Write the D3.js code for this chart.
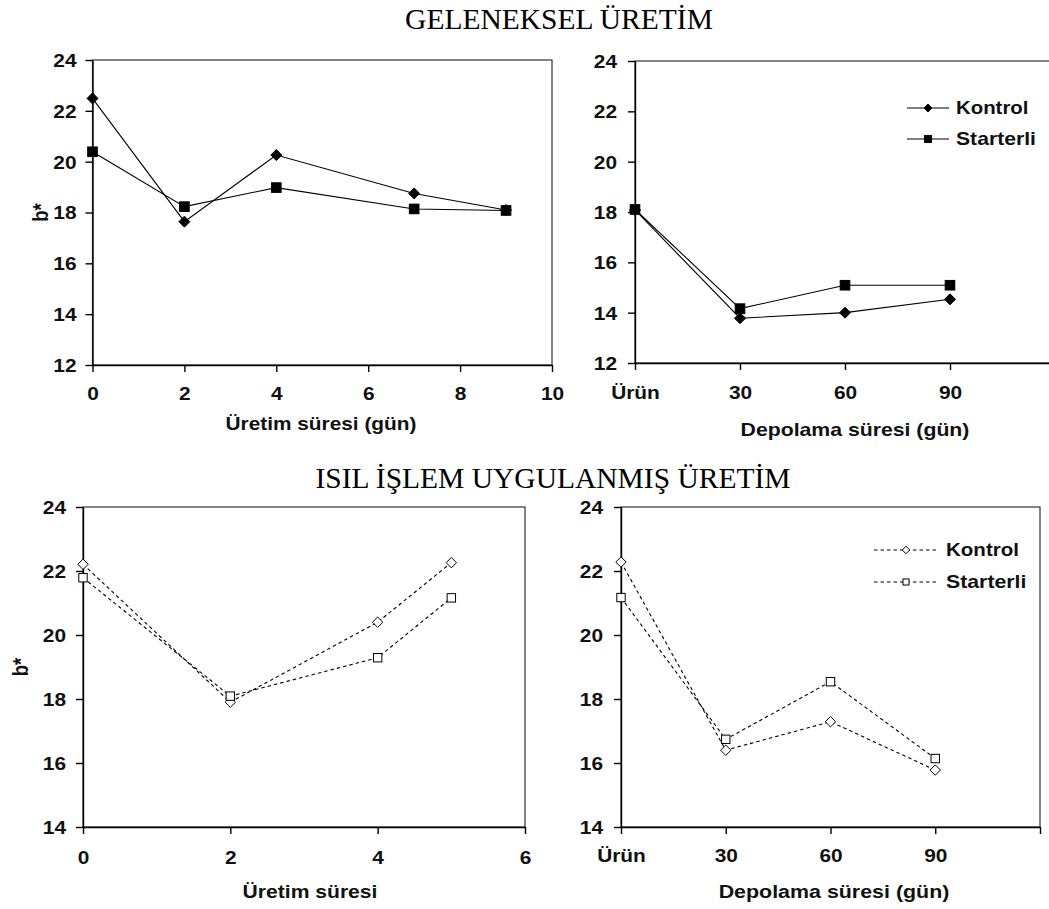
<!DOCTYPE html>
<html>
<head>
<meta charset="utf-8">
<script src="https://cdn.jsdelivr.net/npm/d3@7"></script>
<style>
  html, body { margin: 0; padding: 0; background: #fff; }
  svg { display: block; }
</style>
</head>
<body>
<svg id="chart" width="1049" height="909"></svg>
<script>
// ---- data ----
const seriesNames = ["Kontrol", "Starterli"];

// Geleneksel üretim: üretim süresi (gün)
const gelUretimGun = [0, 2, 4, 7, 9];
const gelUretimKontrol = [22.49, 17.64, 20.26, 18.75, 18.10];
const gelUretimStarterli = [20.39, 18.23, 18.98, 18.14, 18.08];

// Geleneksel üretim: depolama süresi (gün), 0 = Ürün
const depolamaGun = [0, 30, 60, 90];
const gelDepolamaKontrol = [18.08, 13.78, 14.00, 14.53];
const gelDepolamaStarterli = [18.10, 14.16, 15.09, 15.09];

// Isıl işlem uygulanmış üretim: üretim süresi
const isilUretimGun = [0, 2, 4, 5];
const isilUretimKontrol = [22.21, 17.90, 20.40, 22.26];
const isilUretimStarterli = [21.79, 18.09, 19.29, 21.16];

// Isıl işlem uygulanmış üretim: depolama süresi (gün)
const isilDepolamaKontrol = [22.28, 16.40, 17.29, 15.78];
const isilDepolamaStarterli = [21.17, 16.74, 18.54, 16.14];

// tick values / labels
const uretimTicksTop = [0, 2, 4, 6, 8, 10];
const uretimTicksBottom = [0, 2, 4, 6];
const depolamaTicks = [0, 30, 60, 90, 120];
const depolamaTickLabels = ["Ürün", "30", "60", "90", ""];
const yTicksTop = [12, 14, 16, 18, 20, 22, 24];
const yTicksBottom = [14, 16, 18, 20, 22, 24];

// ---- drawing ----
const svg = d3.select("#chart");
const SX = 1.16;               // horizontal stretch of the sans-serif labels
const SANS = "'Liberation Sans', Arial, sans-serif";
const SERIF = "'Liberation Serif', 'Times New Roman', serif";
const INK = "#111";

function sansBold(sel, fontSize) {
  sel.attr("font-family", SANS).attr("font-weight", "bold")
     .attr("font-size", fontSize).attr("fill", INK);
}

// place a label at (x, y) and stretch it horizontally to a given width
function fittedText(g, txt, x, y, width, anchor, dy) {
  const t = g.append("text").attr("text-anchor", anchor).attr("dy", dy || null)
    .text(txt).call(sansBold, 18);
  const natural = t.node().getComputedTextLength();
  const s = width ? width / natural : SX;
  t.attr("transform", `translate(${x},${y}) scale(${s},1)`);
  return t;
}

function panel(cfg) {
  const x = d3.scaleLinear().domain(cfg.xDomain).range([cfg.left, cfg.right]);
  const y = d3.scaleLinear().domain(cfg.yDomain).range([cfg.bottom, cfg.top]);
  const g = svg.append("g");

  // plot frame
  g.append("rect")
    .attr("x", cfg.left).attr("y", cfg.top)
    .attr("width", cfg.right - cfg.left).attr("height", cfg.bottom - cfg.top)
    .attr("fill", "none").attr("stroke", "#333").attr("stroke-width", 1.2);

  // y axis
  const ya = g.append("g").attr("transform", `translate(${cfg.left},0)`)
    .call(d3.axisLeft(y).tickValues(cfg.yTicks).tickSize(7).tickSizeOuter(0)
      .tickFormat(d3.format("d")));
  ya.selectAll("path,line").attr("stroke", "#000").attr("stroke-width", 1.4);
  ya.selectAll("text")
    .attr("x", -cfg.yLabelGap / SX)
    .attr("dy", "0.36em")
    .attr("transform", `scale(${SX},1)`)
    .call(sansBold, 18);

  // x axis
  const xa = g.append("g").attr("transform", `translate(0,${cfg.bottom})`)
    .call(d3.axisBottom(x).tickValues(cfg.xTicks).tickSize(7).tickSizeOuter(0)
      .tickFormat((d, i) => cfg.xTickLabels ? cfg.xTickLabels[i] : d));
  xa.selectAll("path,line").attr("stroke", "#000").attr("stroke-width", 1.4);
  xa.selectAll("text")
    .attr("y", cfg.xLabelGap)
    .attr("dy", "0.71em")
    .attr("transform", `scale(${SX},1)`)
    .call(sansBold, 18);

  // axis titles
  fittedText(g, cfg.xTitle, cfg.xTitleX, cfg.xTitleY, cfg.xTitleW, "middle");
  if (cfg.yTitleX != null) {
    g.append("text")
      .attr("transform",
        `translate(${cfg.yTitleX},${(cfg.top + cfg.bottom) / 2}) scale(${SX},1) rotate(-90)`)
      .attr("text-anchor", "middle")
      .attr("dy", "0.36em")
      .text("b*")
      .call(sansBold, 18.5);
  }

  // series lines, then markers on top
  const line = d3.line().x(d => x(d[0])).y(d => y(d[1]));
  const seriesPts = cfg.series.map(s => cfg.xs.map((v, i) => [v, s[i]]));
  seriesPts.forEach(pts => {
    g.append("path")
      .attr("d", line(pts))
      .attr("fill", "none")
      .attr("stroke", "#000")
      .attr("stroke-width", 1.1)
      .attr("stroke-dasharray", cfg.dashed ? "3.5,3" : null);
  });
  seriesPts.forEach((pts, k) => {
    drawMarkers(g, pts.map(p => [x(p[0]), y(p[1])]), k, cfg.dashed, 1);
  });

  // legend
  if (cfg.legend) {
    const L = cfg.legend;
    seriesNames.forEach((name, k) => {
      const ly = L.y + k * L.dy;
      g.append("line")
        .attr("x1", L.x1).attr("x2", L.x2).attr("y1", ly).attr("y2", ly)
        .attr("stroke", "#000").attr("stroke-width", 1.1)
        .attr("stroke-dasharray", cfg.dashed ? "3.5,3" : null);
      drawMarkers(g, [[(L.x1 + L.x2) / 2, ly]], k, cfg.dashed, 0.72);
      fittedText(g, name, L.tx, ly, L.widths[k], "start", "0.36em");
    });
  }
}

function drawMarkers(g, pts, k, hollow, s) {
  const fill = hollow ? "#fff" : "#000";
  if (k === 0) {
    const r = (hollow ? 5.2 : 5.5) * s;
    g.selectAll(null).data(pts).enter().append("path")
      .attr("d", d => `M${d[0]},${d[1] - r}L${d[0] + r},${d[1]}L${d[0]},${d[1] + r}L${d[0] - r},${d[1]}Z`)
      .attr("fill", fill).attr("stroke", "#000").attr("stroke-width", 1);
  } else {
    const h = (hollow ? 4.2 : 4.8) * s;
    g.selectAll(null).data(pts).enter().append("rect")
      .attr("x", d => d[0] - h).attr("y", d => d[1] - h)
      .attr("width", 2 * h).attr("height", 2 * h)
      .attr("fill", fill).attr("stroke", "#000").attr("stroke-width", 1);
  }
}

// section titles
svg.append("text").attr("x", 559).attr("y", 29).attr("text-anchor", "middle")
  .attr("font-family", SERIF).attr("font-size", 29.5).attr("fill", "#000")
  .text("GELENEKSEL ÜRETİM");
svg.append("text").attr("x", 553).attr("y", 488).attr("text-anchor", "middle")
  .attr("font-family", SERIF).attr("font-size", 29.5).attr("fill", "#000")
  .text("ISIL İŞLEM UYGULANMIŞ ÜRETİM");

// top-left: geleneksel, üretim
panel({
  left: 92.5, right: 552, top: 60, bottom: 365,
  xDomain: [0, 10], yDomain: [12, 24],
  xTicks: uretimTicksTop, yTicks: yTicksTop,
  yLabelGap: 16, xLabelGap: 22,
  xTitle: "Üretim süresi (gün)", xTitleX: 321, xTitleY: 430, xTitleW: 191,
  yTitleX: 40.5,
  xs: gelUretimGun, series: [gelUretimKontrol, gelUretimStarterli], dashed: false
});

// top-right: geleneksel, depolama
panel({
  left: 635, right: 1055, top: 61, bottom: 363,
  xDomain: [0, 120], yDomain: [12, 24],
  xTicks: depolamaTicks, xTickLabels: depolamaTickLabels, yTicks: yTicksTop,
  yLabelGap: 18, xLabelGap: 23,
  xTitle: "Depolama süresi (gün)", xTitleX: 855, xTitleY: 436, xTitleW: 229,
  xs: depolamaGun, series: [gelDepolamaKontrol, gelDepolamaStarterli], dashed: false,
  legend: { x1: 907, x2: 949, y: 108, dy: 31, tx: 956, widths: [72.5, 80] }
});

// bottom-left: ısıl işlem, üretim
panel({
  left: 83, right: 525, top: 507, bottom: 827,
  xDomain: [0, 6], yDomain: [14, 24],
  xTicks: uretimTicksBottom, yTicks: yTicksBottom,
  yLabelGap: 17, xLabelGap: 24,
  xTitle: "Üretim süresi", xTitleX: 310, xTitleY: 898, xTitleW: 135,
  yTitleX: 20.5,
  xs: isilUretimGun, series: [isilUretimKontrol, isilUretimStarterli], dashed: true
});

// bottom-right: ısıl işlem, depolama
panel({
  left: 621, right: 1040, top: 507, bottom: 827,
  xDomain: [0, 120], yDomain: [14, 24],
  xTicks: depolamaTicks, xTickLabels: depolamaTickLabels, yTicks: yTicksBottom,
  yLabelGap: 18, xLabelGap: 22,
  xTitle: "Depolama süresi (gün)", xTitleX: 834, xTitleY: 898, xTitleW: 231,
  xs: depolamaGun, series: [isilDepolamaKontrol, isilDepolamaStarterli], dashed: true,
  legend: { x1: 874, x2: 938, y: 550, dy: 32, tx: 946, widths: [73, 80.5] }
});
</script>
</body>
</html>
